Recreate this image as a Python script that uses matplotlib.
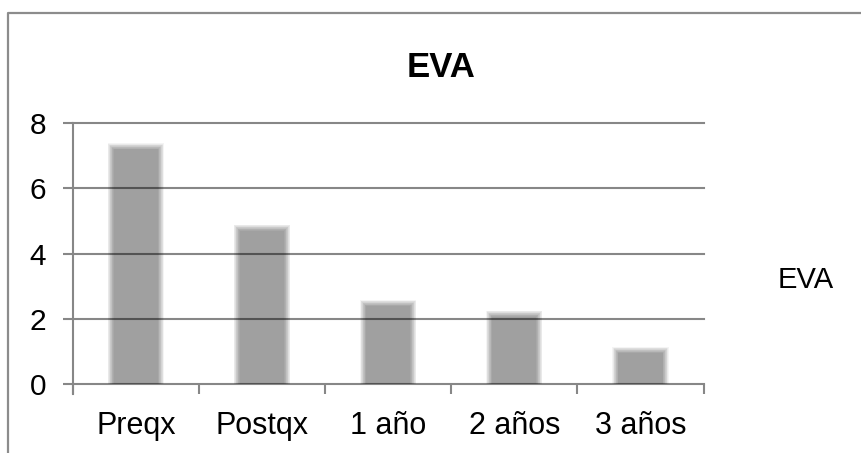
import numpy as np
import matplotlib
matplotlib.use("Agg")
import matplotlib.pyplot as plt
from matplotlib.lines import Line2D

plt.rcParams['font.family'] = ['Liberation Sans', 'DejaVu Sans']

# EVA scores per follow-up stage
categories = ['Preqx', 'Postqx', '1 año', '2 años', '3 años']
eva = [7.36, 4.87, 2.56, 2.24, 1.13]
yticks = [0, 2, 4, 6, 8]

W, H, DPI = 861, 453, 100
GRID = '#878787'

fig = plt.figure(figsize=(W / DPI, H / DPI), dpi=DPI)
fig.patch.set_facecolor('white')

# plot area in pixels
x0, x1, ytop, ybot = 72.7, 703.5, 122.8, 384.3
ax = fig.add_axes([x0 / W, 1 - ybot / H, (x1 - x0) / W, (ybot - ytop) / H])
ax.set_xlim(0, len(categories))
ax.set_ylim(0, 8)

px_x = len(categories) / (x1 - x0)   # data units per pixel
px_y = 8 / (ybot - ytop)

# soft-edged bars: stacked translucent layers
pos = np.arange(len(categories)) + 0.5
vals = np.array(eva)
bw = 0.4
offsets = np.linspace(-3.0, 3.0, 10)
alpha = 1 - 0.65 ** (1 / len(offsets))
for o in offsets:
    ax.bar(pos, vals + 2 * o * px_y, width=bw + 2 * o * px_x,
           bottom=-(2.5 + o) * px_y,
           color='black', alpha=alpha, linewidth=0, zorder=1)

# horizontal gridlines
for v in yticks:
    ax.axhline(v, color=GRID, lw=1.5, zorder=0, clip_on=False)

for s in ['top', 'right', 'bottom']:
    ax.spines[s].set_visible(False)
ax.spines['left'].set_color(GRID)
ax.spines['left'].set_linewidth(1.5)
ax.spines['left'].set_bounds(-10 * px_y, 8)

ax.set_yticks(yticks)
ax.set_yticklabels([str(v) for v in yticks], fontsize=21.5)
ax.tick_params(axis='y', direction='out', length=7.2, width=1.5, color=GRID,
               pad=12, labelcolor='black')

ax.set_xticks(np.arange(len(categories) + 1))
ax.set_xticklabels([])
ax.tick_params(axis='x', which='major', direction='out', length=7.2,
               width=1.5, color=GRID)
ax.set_xticks(pos, minor=True)
ax.set_xticklabels(categories, minor=True, fontsize=22)
ax.tick_params(axis='x', which='minor', length=0, pad=19, labelcolor='black')

# chart title and series label
fig.text(441.5 / W, 1 - 76.7 / H, 'EVA', fontsize=25, fontweight='bold',
         ha='center', va='baseline')
fig.text(778 / W, 1 - 288.3 / H, 'EVA', fontsize=21, ha='left', va='baseline')

# outer chart border (top and left edges)
fig.add_artist(Line2D([8.3 / W, 8.3 / W, 1.01], [-0.01, 1 - 12.8 / H, 1 - 12.8 / H],
                      transform=fig.transFigure, color='#8c8c8c', lw=1.6))

fig.savefig('out.png', dpi=DPI, facecolor='white')
